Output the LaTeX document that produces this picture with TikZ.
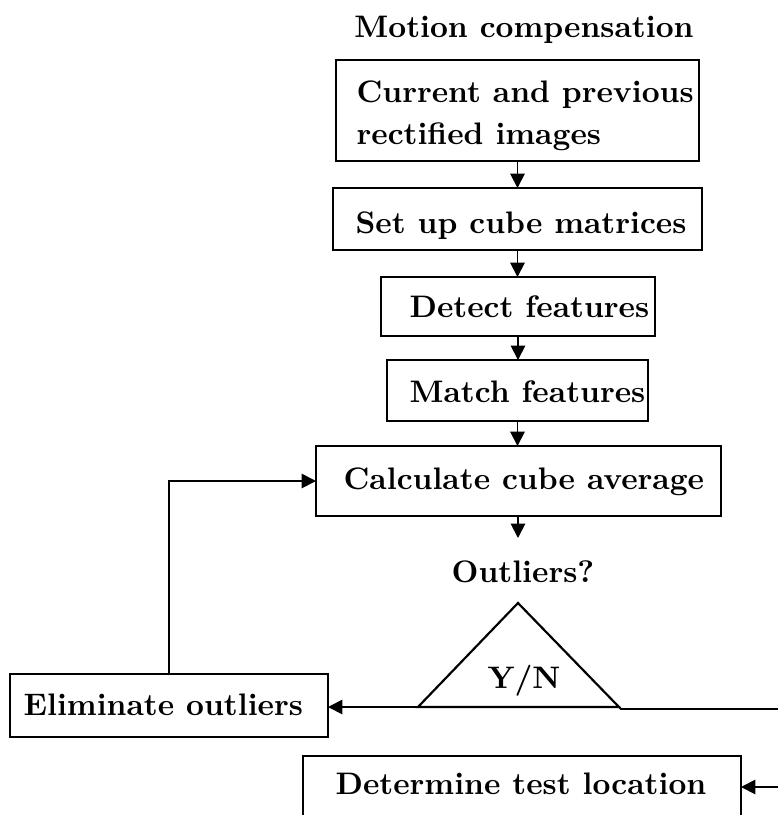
\documentclass[tikz,border=0pt]{standalone}
\usetikzlibrary{arrows.meta,fit,calc}
\newcommand\pxu{0.3215pt}
\tikzset{
  box/.style={draw, line width=0.7pt, inner sep=0pt, outer sep=0pt},
  topbox/.style={box, line width=0.95pt},
  lbl/.style={font=\bfseries, inner sep=0pt, anchor=base west},
  arr/.style={line width=0.6pt, -{Triangle[length=4.6pt,width=4.6pt]}},
  ln/.style={line width=0.6pt},
}
\begin{document}
\begin{tikzpicture}[x=\pxu, y=-\pxu]
\useasboundingbox (0,0) rectangle (778,815);
\clip (0,0) rectangle (778,815);

% title
\node[font=\bfseries, inner sep=0pt, anchor=base] (title) at (524,37) {Motion compensation};

% process boxes
\node[topbox, fit={(336,60) (699,161)}] (b1) {};
\node[font=\fontsize{10}{13.5}\selectfont\bfseries, inner sep=0pt, anchor=north west, align=left]
  (t1) at (356,80.5) {Current and previous\\rectified images};

\node[box, fit={(333,188) (702,250)}] (b2) {};
\node[lbl] (t2) at (355,233) {Set up cube matrices};

\node[box, fit={(381,277) (655,336)}] (b3) {};
\node[lbl] (t3) at (409,317) {Detect features};

\node[box, fit={(387,360) (648,421)}] (b4) {};
\node[lbl] (t4) at (409,402) {Match features};

\node[box, fit={(316,446) (721,516)}] (b5) {};
\node[lbl] (t5) at (343,489) {Calculate cube average};

% decision
\node[font=\bfseries, inner sep=0pt, anchor=base] (q) at (523,582) {Outliers?};
\coordinate (qin) at (518,538);
\coordinate (ta) at (518,603);
\coordinate (tl) at (418,707);
\coordinate (tr) at (619,707);
\draw[line width=0.7pt, line join=miter] (tl) -- (ta) -- (tr) -- cycle;
\node[font=\bfseries, inner sep=0pt, anchor=base] (yn) at (524,688) {Y/N};

\node[box, fit={(10,674) (328,737)}] (elim) {};
\node[lbl] (te) at (23,715) {Eliminate outliers};

\node[box, fit={(303,756) (741,818)}] (det) {};
\node[lbl] (td) at (335,794) {Determine test location};

% connectors
\draw[arr] (b1.south) -- (b1.south |- b2.north);
\draw[arr] (b2.south) -- (b2.south |- b3.north);
\draw[arr] (b3.south) -- (b3.south |- b4.north);
\draw[arr] (b4.south) -- (b4.south |- b5.north);
\draw[arr] (b5.south -| qin) -- (qin);
\draw[arr] (tl) -- (tl -| elim.east);
\draw[arr] (elim.north) |- (b5.west);
\coordinate (rr) at (800,709);
\draw[arr] (tr) -- ++(2,2) -- (rr) |- (det.east);
\end{tikzpicture}
\end{document}
